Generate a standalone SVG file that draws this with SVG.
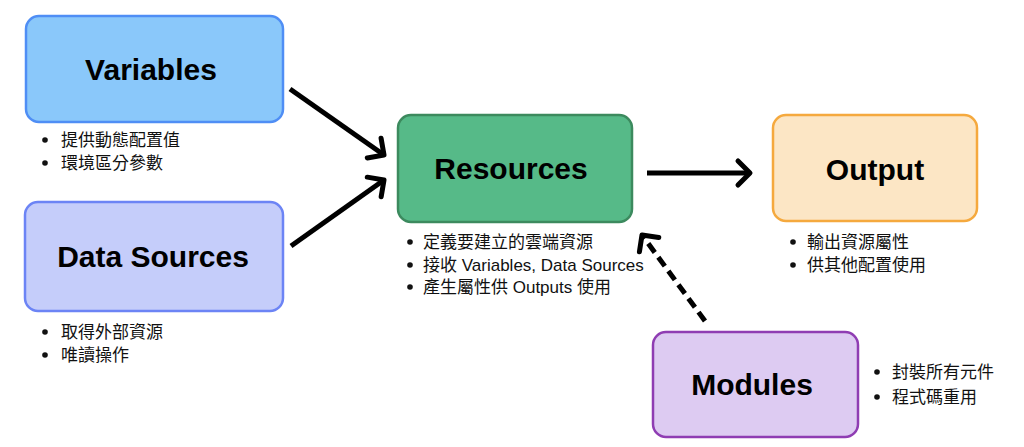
<svg xmlns="http://www.w3.org/2000/svg" width="1024" height="447" viewBox="0 0 1024 447">
<style>
.box{stroke-width:2.5}
.title{font-family:"Liberation Sans",Arial,sans-serif;font-weight:bold;font-size:30px;fill:#000;text-anchor:middle}
.bl{font-family:"Liberation Sans","Noto Sans CJK TC",sans-serif;font-size:17px;fill:#111}
.dot{fill:#111}
.conn{stroke:#000;stroke-width:5;fill:none;stroke-linecap:butt}
</style>
<defs>
<marker id="ah" markerUnits="userSpaceOnUse" markerWidth="24" markerHeight="32" refX="17" refY="16" orient="auto" overflow="visible">
<path d="M5,4 L17,16 L5,28" fill="none" stroke="#000" stroke-width="5" stroke-linecap="round" stroke-linejoin="round"/>
</marker>
</defs>
<rect width="1024" height="447" fill="#fff"/>
<g id="connectors">
<line class="conn" x1="290" y1="89" x2="384" y2="155" marker-end="url(#ah)"/>
<line class="conn" x1="291" y1="246" x2="384" y2="180" marker-end="url(#ah)"/>
<line class="conn" x1="647" y1="173" x2="750" y2="173" marker-end="url(#ah)"/>
<line class="conn" x1="705" y1="321" x2="642" y2="235" stroke-dasharray="11,6" marker-end="url(#ah)"/>
</g>
<g id="variables">
<rect class="box" x="26" y="16" width="257" height="106" rx="13" fill="#8AC8FA" stroke="#4F8EF5"/>
<text class="title" x="151" y="80">Variables</text>
<circle class="dot" cx="45" cy="140" r="2.8"/>
<text class="bl" x="61" y="146">提供動態配置值</text>
<circle class="dot" cx="45" cy="163" r="2.8"/>
<text class="bl" x="61" y="169">環境區分參數</text>
</g>
<g id="datasources">
<rect class="box" x="25" y="202" width="258" height="109" rx="13" fill="#C5CDFA" stroke="#6C84F5"/>
<text class="title" x="153" y="267">Data Sources</text>
<circle class="dot" cx="45" cy="332" r="2.8"/>
<text class="bl" x="61" y="338">取得外部資源</text>
<circle class="dot" cx="45" cy="355" r="2.8"/>
<text class="bl" x="61" y="361">唯讀操作</text>
</g>
<g id="resources">
<rect class="box" x="398" y="115" width="234" height="107" rx="13" fill="#56BA88" stroke="#3C8A5E"/>
<text class="title" x="511" y="179">Resources</text>
<circle class="dot" cx="410" cy="242" r="2.8"/>
<text class="bl" x="423" y="248">定義要建立的雲端資源</text>
<circle class="dot" cx="410" cy="265" r="2.8"/>
<text class="bl" x="423" y="271">接收 Variables, Data Sources</text>
<circle class="dot" cx="410" cy="287" r="2.8"/>
<text class="bl" x="423" y="293">產生屬性供 Outputs 使用</text>
</g>
<g id="output">
<rect class="box" x="773" y="115" width="204" height="106" rx="13" fill="#FCE6C5" stroke="#F5A93E"/>
<text class="title" x="875" y="180">Output</text>
<circle class="dot" cx="793" cy="242" r="2.8"/>
<text class="bl" x="807" y="248">輸出資源屬性</text>
<circle class="dot" cx="793" cy="265" r="2.8"/>
<text class="bl" x="807" y="271">供其他配置使用</text>
</g>
<g id="modules">
<rect class="box" x="653" y="332" width="205" height="105" rx="13" fill="#DDCBF2" stroke="#8F3DB3"/>
<text class="title" x="752" y="395">Modules</text>
<circle class="dot" cx="877" cy="372" r="2.8"/>
<text class="bl" x="892" y="378">封裝所有元件</text>
<circle class="dot" cx="877" cy="397" r="2.8"/>
<text class="bl" x="892" y="403">程式碼重用</text>
</g>
</svg>
